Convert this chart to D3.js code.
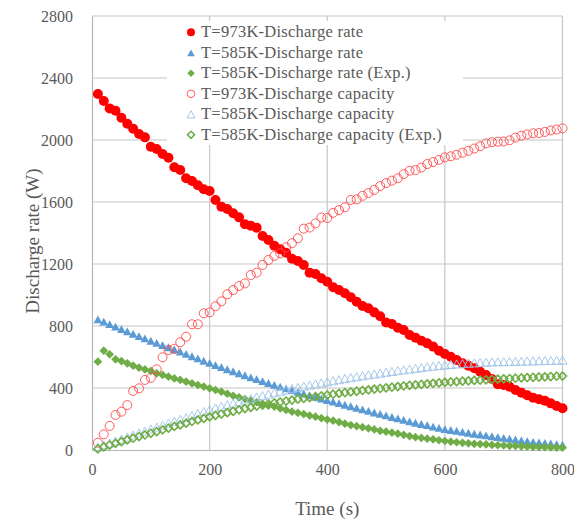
<!DOCTYPE html>
<html>
<head>
<meta charset="utf-8">
<script src="https://cdn.jsdelivr.net/npm/d3@7"></script>
<style>
  body { margin: 0; background: #fff; }
  text { font-family: "Liberation Serif", "Times New Roman", serif; fill: #595959; }
</style>
</head>
<body>
<div id="chart"></div>
<script>
// time points (s)
var timeS = [10, 20, 30, 40, 50, 60, 70, 80, 90, 100, 110, 120, 130, 140, 150, 160, 170, 180, 190, 200,
  210, 220, 230, 240, 250, 260, 270, 280, 290, 300, 310, 320, 330, 340, 350, 360, 370, 380, 390, 400,
  410, 420, 430, 440, 450, 460, 470, 480, 490, 500, 510, 520, 530, 540, 550, 560, 570, 580, 590, 600,
  610, 620, 630, 640, 650, 660, 670, 680, 690, 700, 710, 720, 730, 740, 750, 760, 770, 780, 790, 800];

// T=973K discharge rate (W)
var rate973 = [2297, 2252, 2204, 2189, 2144, 2105, 2073, 2039, 2017, 1957, 1942, 1910, 1886, 1824, 1806, 1753, 1735, 1708, 1682, 1671,
  1613, 1570, 1555, 1527, 1501, 1456, 1447, 1434, 1381, 1355, 1318, 1295, 1273, 1234, 1219, 1194, 1144, 1135, 1108, 1086,
  1050, 1032, 1011, 985, 957, 929, 914, 888, 863, 823, 813, 789, 774, 742, 725, 705, 688, 667, 641, 619,
  602, 581, 559, 544, 527, 505, 484, 458, 424, 419, 408, 387, 370, 353, 337, 327, 318, 301, 284, 269];

// T=585K discharge rate (W)
var rate585 = [843, 828, 812, 796, 780, 765, 750, 735, 720, 705, 691, 677, 663, 649, 635, 620, 605, 591, 576, 562,
  548, 535, 521, 508, 495, 482, 469, 457, 444, 432, 420, 409, 398, 386, 375, 364, 353, 343, 332, 322,
  312, 302, 292, 282, 272, 262, 252, 242, 233, 223, 213, 204, 194, 185, 176, 168, 160, 151, 143, 135,
  129, 123, 117, 111, 105, 100, 94, 89, 83, 78, 73, 68, 62, 57, 52, 49, 45, 42, 38, 35];

// T=585K discharge rate, experiment (W)
var rate585Exp = [570, 641, 617, 585, 574, 559, 544, 531, 520, 510, 495, 484, 473, 462, 452, 441, 430, 419, 409, 398,
  387, 376, 363, 350, 340, 329, 318, 308, 297, 286, 280, 269, 258, 247, 240, 232, 222, 215, 205, 196,
  189, 180, 170, 161, 154, 147, 140, 133, 124, 118, 112, 105, 98, 90, 83, 78, 73, 69, 63, 58,
  54, 50, 46, 43, 40, 38, 36, 33, 31, 29, 27, 26, 24, 22, 20, 19, 18, 17, 16, 15];

// T=973K discharge capacity
var cap973 = [47, 101, 155, 226, 247, 290, 381, 398, 452, 466, 521, 598, 645, 652, 695, 731, 811, 811, 882, 888,
  928, 959, 1005, 1032, 1058, 1075, 1129, 1144, 1194, 1226, 1252, 1269, 1308, 1334, 1366, 1428, 1435, 1462, 1500, 1497,
  1530, 1548, 1566, 1613, 1617, 1640, 1658, 1678, 1703, 1722, 1738, 1753, 1780, 1802, 1806, 1822, 1845, 1858, 1872, 1888,
  1895, 1905, 1918, 1930, 1945, 1960, 1978, 1986, 1989, 1990, 1998, 2015, 2028, 2036, 2043, 2045, 2052, 2062, 2068, 2075];

// T=585K discharge capacity
var cap585 = [20, 32, 45, 58, 71, 84, 97, 110, 122, 135, 148, 160, 173, 186, 198, 210, 223, 236, 248, 260,
  271, 281, 292, 302, 312, 322, 332, 342, 351, 361, 370, 379, 387, 396, 404, 412, 419, 426, 433, 440,
  447, 454, 461, 467, 473, 479, 485, 490, 496, 502, 507, 512, 517, 522, 527, 532, 537, 541, 545, 549,
  552, 555, 558, 560, 562, 564, 566, 568, 569, 570, 571, 572, 573, 574, 575, 576, 577, 578, 579, 580];

// T=585K discharge capacity, experiment
var cap585Exp = [8, 20, 32, 43, 54, 65, 76, 87, 97, 108, 119, 130, 141, 152, 162, 173, 184, 194, 204, 214,
  223, 232, 241, 250, 259, 267, 275, 283, 290, 297, 304, 310, 316, 322, 328, 333, 338, 344, 349, 355,
  360, 365, 370, 375, 379, 384, 388, 393, 397, 401, 405, 409, 413, 417, 420, 423, 427, 430, 433, 436,
  439, 441, 444, 446, 449, 451, 453, 455, 457, 459, 461, 463, 465, 467, 469, 471, 472, 474, 476, 477];

var xTicks = [0, 200, 400, 600, 800];
var yTicks = [0, 400, 800, 1200, 1600, 2000, 2400, 2800];

var width = 574, height = 522;
var plot = { left: 92, right: 562.5, top: 16, bottom: 450 };
var serif = "'Liberation Serif', 'Times New Roman', serif";

// custom marker shapes (Excel style: box-centred)
var triangleUp = {
  draw: function (ctx, size) {
    var w = Math.sqrt(size);
    ctx.moveTo(0, -w * 0.45);
    ctx.lineTo(w / 2, w * 0.45);
    ctx.lineTo(-w / 2, w * 0.45);
    ctx.closePath();
  }
};
var diamond = {
  draw: function (ctx, size) {
    var r = Math.sqrt(size) / 2;
    ctx.moveTo(0, -r);
    ctx.lineTo(r, 0);
    ctx.lineTo(0, r);
    ctx.lineTo(-r, 0);
    ctx.closePath();
  }
};

var series = [
  { label: "T=973K-Discharge rate", values: rate973, type: d3.symbolCircle, size: Math.PI * 5 * 5, legendSize: Math.PI * 4 * 4, fill: "#ff0000", stroke: "none", sw: 0 },
  { label: "T=585K-Discharge rate", values: rate585, type: triangleUp, size: 76, legendSize: 56, fill: "#5b9bd5", stroke: "none", sw: 0 },
  { label: "T=585K-Discharge rate (Exp.)", values: rate585Exp, type: diamond, size: 76, legendSize: 56, fill: "#70ad47", stroke: "none", sw: 0 },
  { label: "T=973K-Discharge capacity", values: cap973, type: d3.symbolCircle, size: Math.PI * 4.5 * 4.5, legendSize: Math.PI * 3.8 * 3.8, fill: "none", stroke: "#ff4a4a", sw: 0.9 },
  { label: "T=585K-Discharge capacity", values: cap585, type: triangleUp, size: 81, legendSize: 64, fill: "none", stroke: "#9dc3e6", sw: 0.9 },
  { label: "T=585K-Discharge capacity (Exp.)", values: cap585Exp, type: diamond, size: 64, legendSize: 50, fill: "none", stroke: "#70ad47", sw: 1.6 }
];

var svg = d3.select("#chart")
  .append("svg")
  .attr("width", width)
  .attr("height", height);

var x = d3.scaleLinear().domain([0, 800]).range([plot.left, plot.right]);
var y = d3.scaleLinear().domain([0, 2800]).range([plot.bottom, plot.top]);

// gridlines
svg.append("g")
  .selectAll("line")
  .data(yTicks.slice(1))
  .enter().append("line")
  .attr("x1", plot.left).attr("x2", plot.right)
  .attr("y1", function (d) { return y(d); })
  .attr("y2", function (d) { return y(d); })
  .style("stroke", "#c6c6c6")
  .style("stroke-width", 1.2);

svg.append("g")
  .selectAll("line")
  .data(xTicks.slice(1))
  .enter().append("line")
  .attr("y1", plot.top).attr("y2", plot.bottom)
  .attr("x1", function (d) { return x(d); })
  .attr("x2", function (d) { return x(d); })
  .style("stroke", "#c6c6c6")
  .style("stroke-width", 1.2);

// axes
var xAxis = d3.axisBottom(x).tickValues(xTicks).tickFormat(d3.format("d")).tickSize(0).tickPadding(14);
var yAxis = d3.axisLeft(y).tickValues(yTicks).tickFormat(d3.format("d")).tickSize(0).tickPadding(19);

var gx = svg.append("g")
  .attr("transform", "translate(0," + plot.bottom + ")")
  .call(xAxis);
var gy = svg.append("g")
  .attr("transform", "translate(" + plot.left + ",0)")
  .call(yAxis);

[gx, gy].forEach(function (g) {
  g.attr("font-family", serif).attr("font-size", 16);
  g.select(".domain").style("stroke", "#b5b5b5").style("stroke-width", 1.2);
  g.selectAll("text").style("fill", "#595959").style("font-family", serif);
});

// axis titles
svg.append("text")
  .attr("x", (plot.left + plot.right) / 2)
  .attr("y", 515)
  .attr("text-anchor", "middle")
  .style("font-size", "19px")
  .text("Time (s)");

svg.append("text")
  .attr("transform", "translate(39,241) rotate(-90)")
  .attr("text-anchor", "middle")
  .style("font-size", "19px")
  .text("Discharge rate (W)");

// data markers
series.forEach(function (s) {
  var sym = d3.symbol().type(s.type).size(s.size);
  svg.append("g")
    .selectAll("path")
    .data(s.values)
    .enter().append("path")
    .attr("d", sym)
    .attr("transform", function (d, i) { return "translate(" + x(timeS[i]) + "," + y(d) + ")"; })
    .style("fill", s.fill)
    .style("stroke", s.stroke)
    .style("stroke-width", s.sw);
});

// legend
var legend = svg.append("g");
legend.append("rect")
  .attr("x", 167).attr("y", 21)
  .attr("width", 296).attr("height", 124)
  .style("fill", "#fff");

var rowY = function (i) { return 32.3 + i * 20.5; };
series.forEach(function (s, i) {
  legend.append("path")
    .attr("d", d3.symbol().type(s.type).size(s.legendSize))
    .attr("transform", "translate(191," + rowY(i) + ")")
    .style("fill", s.fill)
    .style("stroke", s.stroke)
    .style("stroke-width", s.sw);
  legend.append("text")
    .attr("x", 201)
    .attr("y", rowY(i) + 5)
    .style("font-size", "16.5px")
    .style("letter-spacing", "0.25px")
    .text(s.label);
});
</script>
</body>
</html>
